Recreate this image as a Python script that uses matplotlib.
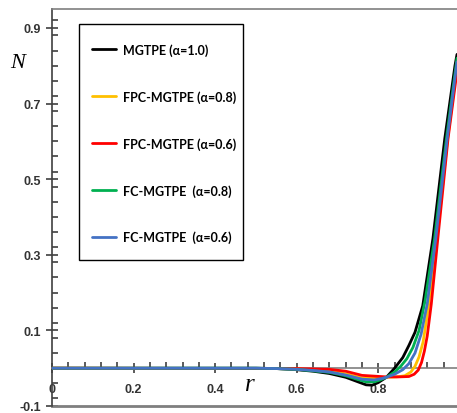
import matplotlib
matplotlib.use('Agg')
import matplotlib.pyplot as plt
from matplotlib.patches import Rectangle
from matplotlib.ticker import MultipleLocator, FixedLocator

# profiles of N against r for each model
r_mgtpe = [0, 0.5, 0.55, 0.6, 0.64, 0.68, 0.72, 0.75, 0.77, 0.785, 0.80, 0.82, 0.84, 0.86,
           0.875, 0.89, 0.909, 0.934, 0.963, 0.988, 0.993]
n_mgtpe = [0, 0, -0.001, -0.004, -0.008, -0.014, -0.024, -0.036, -0.044, -0.045, -0.038, -0.024,
           0.0, 0.028, 0.06, 0.095, 0.165, 0.343, 0.607, 0.80, 0.83]

r_fpc08 = [0, 0.55, 0.6, 0.64, 0.68, 0.72, 0.76, 0.79, 0.82, 0.845, 0.865, 0.88, 0.89, 0.9,
           0.91, 0.92, 0.944, 0.970, 0.993]
n_fpc08 = [0, -0.001, -0.002, -0.004, -0.007, -0.015, -0.026, -0.026, -0.024, -0.023, -0.020,
           -0.010, 0.005, 0.03, 0.07, 0.14, 0.343, 0.607, 0.80]

r_fpc06 = [0, 0.6, 0.64, 0.68, 0.72, 0.76, 0.79, 0.82, 0.85, 0.875, 0.888, 0.898, 0.906, 0.913,
           0.92, 0.93, 0.946, 0.971, 0.993]
n_fpc06 = [0, -0.001, -0.002, -0.003, -0.008, -0.019, -0.021, -0.023, -0.023, -0.022, -0.016,
           -0.005, 0.015, 0.045, 0.085, 0.17, 0.343, 0.607, 0.785]

r_fc08 = [0, 0.5, 0.55, 0.6, 0.64, 0.68, 0.72, 0.75, 0.77, 0.79, 0.805, 0.82, 0.84, 0.855, 0.87,
          0.885, 0.90, 0.915, 0.938, 0.967, 0.993]
n_fc08 = [0, 0, -0.001, -0.003, -0.007, -0.011, -0.020, -0.030, -0.036, -0.036, -0.031, -0.024,
          -0.010, 0.005, 0.025, 0.055, 0.10, 0.18, 0.343, 0.607, 0.82]

r_fc06 = [0, 0.5, 0.55, 0.6, 0.64, 0.68, 0.72, 0.76, 0.79, 0.81, 0.82, 0.84, 0.86, 0.875, 0.89,
          0.905, 0.92, 0.941, 0.969, 0.993]
n_fc06 = [0, 0, -0.001, -0.003, -0.006, -0.010, -0.018, -0.029, -0.031, -0.027, -0.024, -0.016,
          -0.004, 0.012, 0.04, 0.09, 0.17, 0.343, 0.607, 0.81]

labels = ['MGTPE (α=1.0)', 'FPC-MGTPE (α=0.8)', 'FPC-MGTPE (α=0.6)',
          'FC-MGTPE  (α=0.8)', 'FC-MGTPE  (α=0.6)']
colors = ['#000000', '#FFC000', '#FF0000', '#00B050', '#4472C4']

x_ticks = [0, 0.2, 0.4, 0.6, 0.8]
x_ticklabels = ['0', '0.2', '0.4', '0.6', '0.8']
y_ticks = [-0.1, 0.1, 0.3, 0.5, 0.7, 0.9]
y_ticklabels = ['-0.1', '0.1', '0.3', '0.5', '0.7', '0.9']

W, H = 457, 414
fig = plt.figure(figsize=(W / 100, H / 100), dpi=100)
ax = fig.add_axes([52 / W, 7 / H, 1 - 52 / W, 397 / H])

series = [(r_mgtpe, n_mgtpe), (r_fpc08, n_fpc08), (r_fpc06, n_fpc06),
          (r_fc08, n_fc08), (r_fc06, n_fc06)]
for (r, n), c, lab in zip(series, colors, labels):
    ax.plot(r, n, color=c, lw=2.0, label=lab, solid_capstyle='round', zorder=3)

ax.set_xlim(0, 0.993)
ax.set_ylim(-0.1, 0.95)

# x axis runs through N = 0, frame closes at the bottom
ax.spines['bottom'].set_position(('data', 0))
ax.spines['bottom'].set_color('#7f7f7f')
ax.spines['right'].set_visible(False)
ax.spines['top'].set_color('#7f7f7f')
ax.spines['left'].set_color('#404040')
for s in ax.spines.values():
    s.set_linewidth(1.2)
ax.axhline(-0.1, color='#7f7f7f', lw=2, clip_on=False)

ax.xaxis.set_major_locator(FixedLocator(x_ticks))
ax.xaxis.set_minor_locator(MultipleLocator(0.04))
ax.yaxis.set_major_locator(FixedLocator(y_ticks))
ax.yaxis.set_minor_locator(MultipleLocator(0.04))
ax.set_xticklabels(x_ticklabels)
ax.set_yticklabels(y_ticklabels)

ax.tick_params(axis='x', which='major', direction='inout', length=7, width=1.2,
               color='#404040', pad=7, labelsize=9, labelcolor='#333333')
ax.tick_params(axis='x', which='minor', direction='in', length=4, width=1.2, color='#404040')
ax.tick_params(axis='y', which='major', direction='inout', length=8, width=1.2,
               color='#404040', pad=4, labelsize=9, labelcolor='#333333')
ax.tick_params(axis='y', which='minor', direction='in', length=4, width=1.2, color='#404040')
for t in ax.get_xticklabels() + ax.get_yticklabels():
    t.set_fontweight('bold')
    t.set_family('Liberation Sans')

fig.text(18 / W, 1 - 63 / H, 'N', family='Liberation Serif', style='italic',
         fontsize=16, ha='center', va='center')
fig.text(250 / W, 1 - 385 / H, 'r', family='Liberation Serif', style='italic',
         fontsize=18, ha='center', va='center')

# legend entries without their own frame, boxed separately
handles, names = ax.get_legend_handles_labels()
leg = fig.legend(handles, names, loc='upper left', bbox_to_anchor=(92 / W, 1 - 44 / H),
                 frameon=False, handlelength=1.9, handletextpad=0.55, labelspacing=2.74,
                 borderpad=0, borderaxespad=0,
                 prop={'family': 'Lato', 'weight': 'bold', 'size': 9})
leg.set_zorder(5)
for h in leg.legend_handles:
    h.set_linewidth(2.0)
box = Rectangle((79 / W, 1 - 261 / H), 164 / W, 236 / H, transform=fig.transFigure,
                facecolor='white', edgecolor='black', lw=1.0, zorder=4)
fig.add_artist(box)

fig.savefig('out.png', dpi=100)
